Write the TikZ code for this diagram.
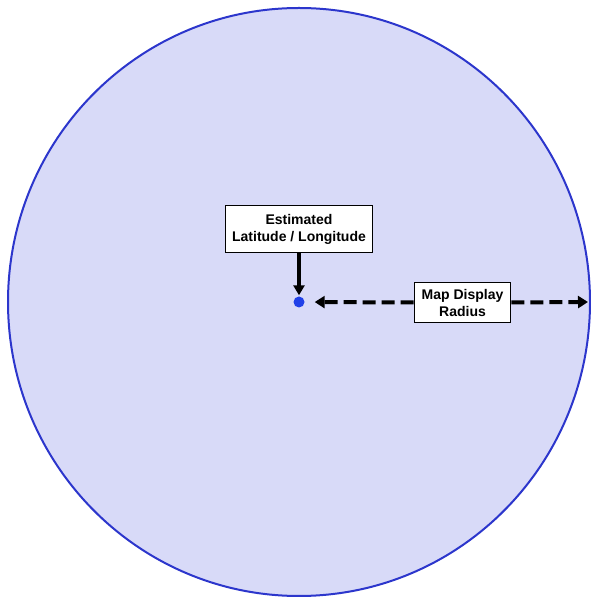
\documentclass[tikz,border=0pt]{standalone}
\usepackage{fontspec}
\setmainfont{Liberation Sans}
\usetikzlibrary{arrows.meta, positioning, calc}
\definecolor{areafill}{RGB}{216,218,248}
\definecolor{arealine}{RGB}{44,54,204}
\definecolor{pinblue}{RGB}{32,64,232}
\begin{document}
\begin{tikzpicture}[
    x=1pt, y=1pt,
    every node/.style={font=\fontsize{14}{17}\selectfont\bfseries, align=center},
    label/.style={
        draw, rectangle, line width=1.8pt, fill=white,
        inner sep=0pt
    },
    pin/.style={
        circle, fill=pinblue, minimum size=11pt, inner sep=0pt
    },
    arrow/.style={-{Triangle[length=10pt,width=11pt]}, line width=3.2pt},
    xarrow/.style={-{Triangle[length=10pt,width=12pt]}, line width=4pt,
        dash pattern=on 13pt off 6pt}
]
\useasboundingbox (0,0) rectangle (590,603);
% search area
\fill[areafill, draw=arealine, line width=2pt] (299,301) ellipse (291 and 294);

\node[pin] (pos) at (299,301) {};
\node[label, minimum width=147pt, minimum height=47pt] (est) at (299,374) {Estimated\\Latitude / Longitude};
\node[label, minimum width=96pt, minimum height=40pt] (rad) at (462.5,300.5) {Map Display\\Radius};
\coordinate (rim) at (588,301);

\draw[arrow, shorten >=1pt] (est.south) -- (pos.north);
\draw[xarrow, shorten >=10pt] (rad.west) -- (pos.east);
\draw[xarrow] (rad.east) -- (rim);
\end{tikzpicture}
\end{document}
